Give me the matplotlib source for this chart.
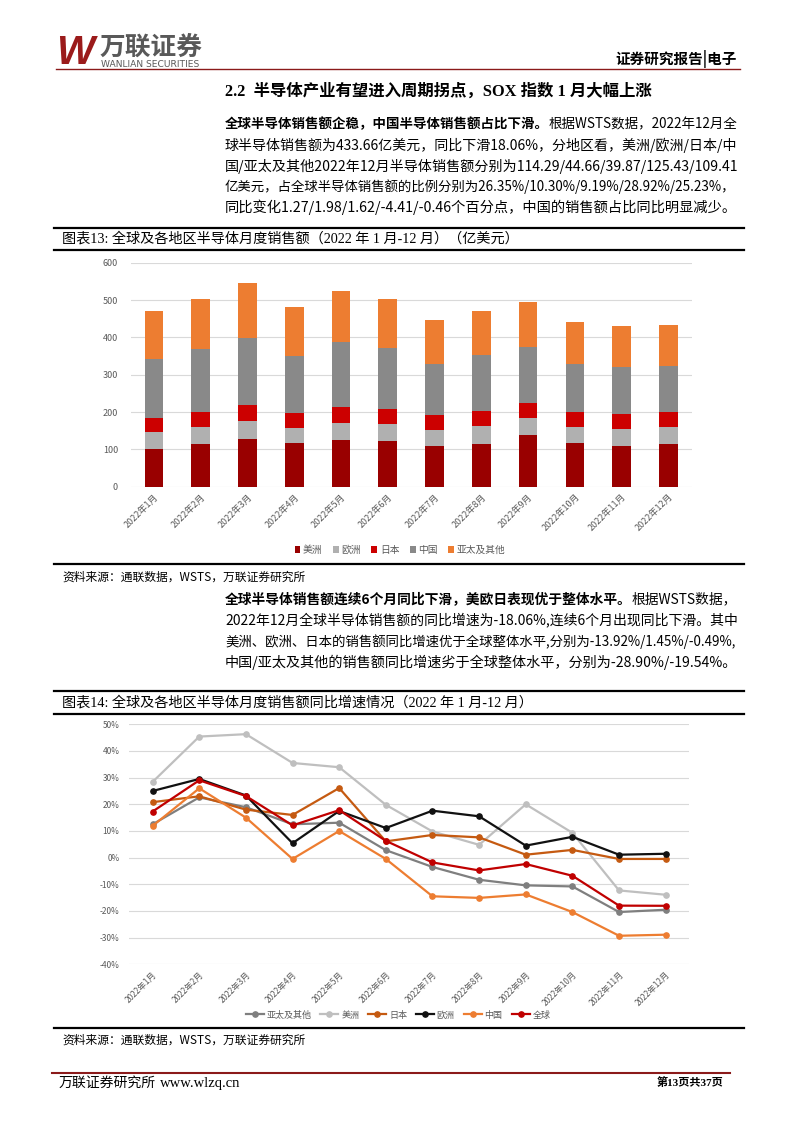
import matplotlib
matplotlib.use("Agg")
import matplotlib.pyplot as plt
from matplotlib.patches import Patch
from matplotlib.lines import Line2D

plt.rcParams['font.family'] = ['Noto Sans CJK SC', 'DejaVu Sans']
plt.rcParams['axes.unicode_minus'] = False

# ---------------- data ----------------
months = ["2022年1月", "2022年2月", "2022年3月", "2022年4月", "2022年5月", "2022年6月",
          "2022年7月", "2022年8月", "2022年9月", "2022年10月", "2022年11月", "2022年12月"]

bar_regions = ["美洲", "欧洲", "日本", "中国", "亚太及其他"]
americas = [101.8, 115.2, 127.7, 117.0, 125.9, 121.4, 108.0, 115.2, 138.4, 117.0, 109.8, 114.29]
europe = [45.5, 45.5, 47.3, 40.1, 44.6, 45.6, 44.7, 46.4, 45.5, 43.7, 44.7, 44.66]
japan = [37.5, 38.4, 42.9, 40.2, 43.8, 40.1, 39.3, 40.2, 41.1, 40.2, 39.3, 39.87]
china = [158.0, 168.8, 180.3, 151.8, 173.2, 163.4, 135.7, 150.9, 149.1, 127.7, 126.7, 125.43]
asia_other = [126.7, 135.7, 148.2, 131.3, 137.5, 131.3, 117.8, 118.7, 120.5, 112.5, 109.0, 109.41]
bar_yticks = [0, 100, 200, 300, 400, 500, 600]

line_series = ["亚太及其他", "美洲", "日本", "欧洲", "中国", "全球"]
yoy_asia = [12.5, 22.6, 18.9, 12.5, 13.1, 2.8, -3.5, -8.3, -10.4, -10.8, -20.4, -19.54]
yoy_americas = [28.4, 45.4, 46.3, 35.5, 33.9, 19.8, 9.8, 4.8, 20.0, 9.3, -12.3, -13.92]
yoy_japan = [20.8, 23.0, 18.0, 16.0, 26.1, 6.1, 8.5, 7.6, 1.1, 2.9, -0.5, -0.49]
yoy_europe = [25.0, 29.5, 23.3, 5.4, 17.5, 11.1, 17.6, 15.5, 4.5, 7.8, 1.1, 1.45]
yoy_china = [11.9, 26.0, 15.0, -0.5, 10.0, -0.5, -14.5, -15.1, -13.8, -20.4, -29.3, -28.90]
yoy_global = [17.3, 29.0, 23.1, 12.1, 17.8, 6.3, -1.8, -4.8, -2.4, -6.8, -18.0, -18.06]
line_yticks = [-40, -30, -20, -10, 0, 10, 20, 30, 40, 50]

# ---------------- styles ----------------
bar_colors = ["#990000", "#b0b0b0", "#cc0000", "#898989", "#ed7d31"]
line_colors = ["#7f7f7f", "#bfbfbf", "#c55a11", "#111111", "#ed7d31", "#c00000"]
TICK_C = "#595959"
GRID_C = "#d9d9d9"

W, H = 794, 1123
fig = plt.figure(figsize=(W / 100, H / 100), dpi=100)
renderer = fig.canvas.get_renderer()


def fx(x):
    return x / W


def fy(y):
    return 1 - y / H


def hline(y, x0, x1, color="black", lw=1.3):
    fig.add_artist(Line2D([fx(x0), fx(x1)], [fy(y), fy(y)], color=color, lw=lw,
                          transform=fig.transFigure))


def text(x, y, s, **kw):
    kw.setdefault('va', 'center')
    return fig.text(fx(x), fy(y), s, **kw)


SERIF = ['Liberation Serif', 'Noto Sans CJK SC']

# ---------------- header ----------------
text(56, 53, "W", fontsize=29, fontweight='bold', style='italic', color="#9b1b1b",
     family=['Liberation Sans', 'DejaVu Sans'])
text(100, 47.5, "万联证券", fontsize=18.5, fontweight='bold', color="#595959")
text(101, 64.5, "WANLIAN SECURITIES", fontsize=6.6, color="#595959", family=['DejaVu Sans'])
hline(68.5, 56, 740, color="#8b1a1a", lw=1.0)
text(737, 59, "证券研究报告|电子", fontsize=10.5, fontweight='bold', ha='right')

# ---------------- section title ----------------
text(225, 92, "2.2  半导体产业有望进入周期拐点，SOX 指数 1 月大幅上涨", fontsize=11.8,
     fontweight='bold', family=SERIF)

BODY_FS = 9.9
RIGHT = 737


def body_line(x, y, s, bold_prefix=None, justify=True):
    fs = BODY_FS
    full = (bold_prefix or "") + s
    t = text(x, y, full, fontsize=fs)
    w = t.get_window_extent(renderer).width
    t.remove()
    if justify and w > 0:
        fs = fs * min(1.05, max(0.85, (RIGHT - x) / w))
    if bold_prefix:
        tb = text(x, y, bold_prefix, fontsize=fs, fontweight='bold')
        wb = tb.get_window_extent(renderer).width
        text(x + wb, y, s, fontsize=fs)
    else:
        text(x, y, s, fontsize=fs)


p1_y = [124.5, 145.5, 166, 186.5, 207]
body_line(225, p1_y[0], "根据WSTS数据，2022年12月全", bold_prefix="全球半导体销售额企稳，中国半导体销售额占比下滑。")
body_line(225, p1_y[1], "球半导体销售额为433.66亿美元，同比下滑18.06%，分地区看，美洲/欧洲/日本/中")
body_line(225, p1_y[2], "国/亚太及其他2022年12月半导体销售额分别为114.29/44.66/39.87/125.43/109.41")
body_line(225, p1_y[3], "亿美元，占全球半导体销售额的比例分别为26.35%/10.30%/9.19%/28.92%/25.23%，")
body_line(225, p1_y[4], "同比变化1.27/1.98/1.62/-4.41/-0.46个百分点，中国的销售额占比同比明显减少。")

# ---------------- chart 13 frame ----------------
hline(227.5, 54, 744, lw=1.6)
text(62, 239, "图表13: 全球及各地区半导体月度销售额（2022 年 1 月-12 月）（亿美元）", fontsize=10.2,
     family=SERIF)
hline(249.5, 54, 744, lw=1.6)
hline(564.3, 54, 744, lw=1.6)
text(62, 577, "资料来源：通联数据，WSTS，万联证券研究所", fontsize=8.5, style='italic')

# ---------------- bar chart ----------------
ax1 = fig.add_axes([fx(130.6), fy(486.7), (691.8 - 130.6) / W, (486.7 - 262.7) / H])
xs = list(range(len(months)))
stack = [americas, europe, japan, china, asia_other]
bottom = [0.0] * len(months)
for vals, col, lab in zip(stack, bar_colors, bar_regions):
    ax1.bar(xs, vals, width=0.4, bottom=bottom, color=col, label=lab, zorder=3)
    bottom = [b + v for b, v in zip(bottom, vals)]
ax1.set_xlim(-0.5, len(months) - 0.5)
ax1.set_ylim(0, 600)
ax1.set_yticks(bar_yticks)
ax1.set_yticklabels([str(v) for v in bar_yticks])
ax1.set_xticks(xs)
ax1.set_xticklabels(months, rotation=45, ha='right', rotation_mode='anchor')
ax1.grid(axis='y', color=GRID_C, lw=0.8, zorder=0)
for sp in ax1.spines.values():
    sp.set_visible(False)
ax1.tick_params(axis='both', length=0, colors=TICK_C, labelsize=6.5)
ax1.tick_params(axis='y', pad=9)
ax1.tick_params(axis='x', pad=4)

bar_handles = [Patch(facecolor=c, label=l) for c, l in zip(bar_colors, bar_regions)]
fig.legend(handles=bar_handles, loc='center', bbox_to_anchor=(fx(400), fy(550)), ncol=5,
           frameon=False, fontsize=7, handlelength=0.6, handleheight=0.6,
           handletextpad=0.25, columnspacing=1.1, labelcolor=TICK_C)

# ---------------- paragraph 2 ----------------
p2_y = [599, 620, 641.3, 662.5]
body_line(225, p2_y[0], "根据WSTS数据，", bold_prefix="全球半导体销售额连续6个月同比下滑，美欧日表现优于整体水平。")
body_line(225, p2_y[1], "2022年12月全球半导体销售额的同比增速为-18.06%,连续6个月出现同比下滑。其中")
body_line(225, p2_y[2], "美洲、欧洲、日本的销售额同比增速优于全球整体水平,分别为-13.92%/1.45%/-0.49%,")
body_line(225, p2_y[3], "中国/亚太及其他的销售额同比增速劣于全球整体水平，分别为-28.90%/-19.54%。")

# ---------------- chart 14 frame ----------------
hline(691, 54, 744, lw=1.6)
text(62, 702.3, "图表14: 全球及各地区半导体月度销售额同比增速情况（2022 年 1 月-12 月）", fontsize=10.2,
     family=SERIF)
hline(713.7, 54, 744, lw=1.6)
hline(1028.3, 54, 744, lw=1.6)
text(62, 1040, "资料来源：通联数据，WSTS，万联证券研究所", fontsize=8.5, style='italic')

# ---------------- line chart ----------------
ax2 = fig.add_axes([fx(129.3), fy(964.3), (689 - 129.3) / W, (964.3 - 724.3) / H])
series = [yoy_asia, yoy_americas, yoy_japan, yoy_europe, yoy_china, yoy_global]
for vals, col, lab in zip(series, line_colors, line_series):
    ax2.plot(xs, vals, color=col, lw=1.6, marker='o', markersize=3.8, label=lab, zorder=3)
ax2.set_xlim(-0.5, len(months) - 0.5)
ax2.set_ylim(-40, 50)
ax2.set_yticks(line_yticks)
ax2.set_yticklabels([f"{v}%" for v in line_yticks])
ax2.set_xticks(xs)
ax2.set_xticklabels(months, rotation=45, ha='right', rotation_mode='anchor')
ax2.grid(axis='y', color=GRID_C, lw=0.8, zorder=0)
for sp in ax2.spines.values():
    sp.set_visible(False)
ax2.tick_params(axis='both', length=0, colors=TICK_C, labelsize=6.0)
ax2.tick_params(axis='y', pad=7)
ax2.tick_params(axis='x', pad=4)

line_handles = [Line2D([0], [0], color=c, lw=1.6, marker='o', markersize=3.8, label=l)
                for c, l in zip(line_colors, line_series)]
fig.legend(handles=line_handles, loc='center', bbox_to_anchor=(fx(398), fy(1015)), ncol=6,
           frameon=False, fontsize=6.5, handlelength=2.0, handletextpad=0.3,
           columnspacing=1.0, labelcolor=TICK_C)

# ---------------- footer ----------------
hline(1073.3, 52, 730, color="#8b1a1a", lw=1.5)
t_f = text(59, 1083, "万联证券研究所", fontsize=10)
wf = t_f.get_window_extent(renderer).width
text(59 + wf + 4, 1083, "www.wlzq.cn", fontsize=10.5, family=['Liberation Serif'])
text(723, 1083, "第13页共37页", fontsize=8, fontweight='bold', ha='right', family=SERIF)

fig.savefig("out.png", dpi=100)
